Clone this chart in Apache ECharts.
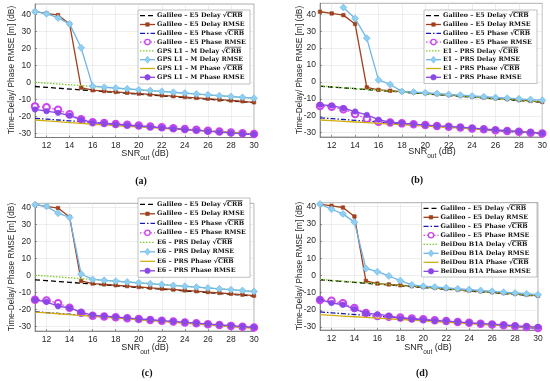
<!DOCTYPE html>
<html><head><meta charset="utf-8">
<script src="https://cdn.jsdelivr.net/npm/echarts@6/dist/echarts.min.js"></script>
<style>html,body{margin:0;padding:0;background:#fff;}#c{width:550px;height:381px;}</style>
</head><body><div id="c"></div>
<script>
const snr = [11,12,13,14,15,16,17,18,19,20,21,22,23,24,25,26,27,28,29,30];
const xTicks = [12,14,16,18,20,22,24,26,28,30];
const yTicks = [-30,-20,-10,0,10,20,30,40];
const panelLetters = ['(a)','(b)','(c)','(d)'];
const signalNames = ['GPS L1 – M','E1 – PRS','E6 – PRS','BeiDou B1A'];
const galName = 'Galileo – E5';

// Galileo E5 (shared across panels)
const galDelayCrb  = [-2.5,-3.0,-3.5,-4.0,-4.5,-5.0,-5.5,-6.0,-6.5,-7.0,-7.5,-8.0,-8.5,-9.0,-9.5,-10.0,-10.5,-11.0,-11.5,-12.0];
const galDelayRmse = [41.5,40.5,39.5,34.3,-3.2,-4.7,-5.2,-5.7,-6.2,-6.7,-7.2,-7.7,-8.2,-8.7,-9.2,-9.7,-10.2,-10.7,-11.2,-11.8];
const galPhaseCrb  = [-21.2,-21.7,-22.2,-22.7,-23.2,-23.7,-24.2,-24.7,-25.2,-25.7,-26.2,-26.7,-27.2,-27.7,-28.2,-28.7,-29.2,-29.7,-30.2,-30.7];
const galPhaseRmse = [-14.2,-14.7,-16.2,-18.9,-21.8,-23.5,-24.0,-24.5,-25.0,-25.5,-26.0,-26.5,-27.0,-27.5,-28.0,-28.5,-29.0,-29.5,-30.0,-30.5];

// (a) GPS L1 - M
const aDelayCrb  = [0.0,-0.5,-1.0,-1.5,-2.0,-2.5,-3.0,-3.5,-4.0,-4.5,-5.0,-5.5,-6.0,-6.5,-7.0,-7.5,-8.0,-8.5,-9.0,-9.5];
const aDelayRmse = [41.5,40.3,37.8,34.3,20.3,-2.3,-2.9,-3.4,-3.9,-4.4,-4.9,-5.4,-5.9,-6.4,-6.9,-7.4,-7.9,-8.4,-8.9,-9.4];
const aPhaseCrb  = [-22.2,-22.7,-23.2,-23.7,-24.2,-24.7,-25.1,-25.5,-25.9,-26.3,-26.7,-27.1,-27.5,-27.9,-28.3,-28.7,-29.1,-29.5,-29.9,-30.4];
const aPhaseRmse = [-16.0,-17.0,-18.0,-19.6,-22.0,-23.8,-24.3,-24.8,-25.3,-25.8,-26.3,-26.8,-27.3,-27.8,-28.3,-28.8,-29.3,-29.8,-30.2,-30.6];

// (b) E1 - PRS
const bDelayCrb  = [-2.4,-2.9,-3.4,-3.9,-4.4,-4.9,-5.4,-5.9,-6.4,-6.9,-7.4,-7.9,-8.4,-8.9,-9.4,-9.9,-10.4,-10.9,-11.4,-11.9];
const bDelayRmse = [null,null,44.0,37.5,25.8,1.2,-1.5,-5.6,-6.0,-6.4,-6.9,-7.4,-7.8,-8.3,-8.7,-9.2,-9.6,-10.0,-10.4,-10.8];
const bPhaseCrb  = [-22.5,-22.9,-23.3,-23.7,-24.1,-24.5,-24.9,-25.3,-25.7,-26.1,-26.5,-26.9,-27.3,-27.7,-28.1,-28.5,-28.9,-29.3,-29.7,-30.1];
const bPhaseRmse = [-13.5,-14.0,-15.5,-17.5,-19.5,-22.3,-23.8,-24.3,-25.0,-25.5,-26.0,-26.3,-26.8,-27.3,-27.8,-28.3,-28.8,-29.3,-29.8,-30.3];

// (c) E6 - PRS
const cDelayCrb  = [0.2,-0.3,-0.8,-1.3,-1.8,-2.3,-2.8,-3.3,-3.8,-4.3,-4.8,-5.3,-5.8,-6.3,-6.8,-7.3,-7.8,-8.3,-8.8,-9.3];
const cDelayRmse = [41.5,40.5,36.5,34.0,0.9,-2.3,-2.8,-3.3,-3.8,-4.3,-4.8,-5.3,-5.8,-6.3,-6.8,-7.3,-7.8,-8.3,-8.8,-9.4];
const cPhaseCrb  = [-21.4,-21.9,-22.4,-22.9,-23.4,-23.9,-24.4,-24.9,-25.4,-25.9,-26.4,-26.9,-27.4,-27.9,-28.4,-28.9,-29.4,-29.9,-30.4,-30.9];
const cPhaseRmse = [-14.2,-15.4,-18.0,-19.0,-21.5,-23.3,-23.8,-24.3,-24.9,-25.4,-25.9,-26.4,-26.9,-27.4,-27.9,-28.4,-28.9,-29.4,-29.9,-30.3];

// (d) BeiDou B1A
const dDelayCrb  = [-2.3,-2.8,-3.3,-3.8,-4.3,-4.8,-5.3,-5.8,-6.3,-6.8,-7.3,-7.8,-8.3,-8.8,-9.3,-9.8,-10.3,-10.8,-11.3,-11.8];
const dDelayRmse = [41.5,38.5,35.8,31.0,4.1,2.2,-0.3,-3.0,-5.5,-6.2,-6.7,-7.2,-7.7,-8.2,-8.7,-9.2,-9.7,-10.2,-10.7,-11.2];
const dPhaseCrb  = [-22.8,-23.2,-23.6,-24.0,-24.4,-24.8,-25.2,-25.6,-26.0,-26.4,-26.8,-27.2,-27.6,-28.0,-28.4,-28.8,-29.2,-29.6,-30.0,-30.4];
const dPhaseRmse = [-14.0,-16.0,-17.0,-19.5,-22.0,-22.5,-23.5,-24.8,-25.3,-25.8,-26.3,-26.5,-27.0,-27.5,-28.0,-28.3,-28.8,-29.2,-29.7,-30.0];

const panelData = [
  [aDelayCrb,aDelayRmse,aPhaseCrb,aPhaseRmse],
  [bDelayCrb,bDelayRmse,bPhaseCrb,bPhaseRmse],
  [cDelayCrb,cDelayRmse,cPhaseCrb,cPhaseRmse],
  [dDelayCrb,dDelayRmse,dPhaseCrb,dPhaseRmse]
];

// layout
const grids = [
  {left:35, top:4, width:219, height:133.5, ymin:-32.5, ymax:46},
  {left:320, top:3.3, width:228, height:133.6, ymin:-32.5, ymax:46.5},
  {left:35, top:203.3, width:219, height:127.7, ymin:-32.5, ymax:42.3},
  {left:320, top:202.7, width:218, height:127.3, ymin:-31.7, ymax:42.3}
];
const legendBoxes = [
  {x:138, y:10, w:112, h:74, first:15.7, pitch:8.8},
  {x:424, y:10, w:113, h:73.5, first:15.7, pitch:8.8},
  {x:138, y:198, w:112, h:79.3, first:204.3, pitch:9.5},
  {x:421.5, y:202.7, w:115.5, h:74.3, first:208.3, pitch:9.0}
];
const ylabPos = [[12,70],[300,70],[12,267],[300,266]];
const xlabPos = [[145,155],[432,153],[145,349],[428,349]];
const capPos = [[141,181],[417,180],[147,373],[422,373]];

const SQ = ' √CRB';
const styles = [
  {suffix:' Delay'+SQ, color:'#000000', dash:[5,3], symbol:'none'},
  {suffix:' Delay RMSE', color:'#A0401C', dash:null, symbol:'rect', size:3.5},
  {suffix:' Phase'+SQ, color:'#1818B8', dash:[5,2,1.5,2], symbol:'none'},
  {suffix:' Phase RMSE', color:'#CC44EE', dash:[1.5,2], symbol:'emptyCircle', size:6.5},
  {suffix:' Delay'+SQ, color:'#7BCB2B', dash:[1.5,1.5], symbol:'none'},
  {suffix:' Delay RMSE', color:'#6FB6E6', dash:null, symbol:'diamond', size:7},
  {suffix:' Phase'+SQ, color:'#D0AE10', dash:null, symbol:'none'},
  {suffix:' Phase RMSE', color:'#8A46E6', dash:null, symbol:'circle', size:5.5}
];

const option = {animation:false, backgroundColor:'#fff', grid:[], xAxis:[], yAxis:[], series:[], graphic:[]};
const axisFont = {fontFamily:'Liberation Sans', fontSize:8.5, color:'#262626'};
const mctx = document.createElement('canvas').getContext('2d');
mctx.font = 'bold 10px "DejaVu Serif"';
const refW = mctx.measureText('Galileo – E5 Phase RMSE').width;
const LSIZE = Math.min(8, 10 * 89 / refW);
const LFONT = 'bold ' + LSIZE.toFixed(2) + 'px "DejaVu Serif"';
mctx.font = LFONT;

function markerGraphic(sym, cx, cy, s, color) {
  if (sym === 'rect') return {type:'rect', shape:{x:cx-s/2, y:cy-s/2, width:s, height:s}, style:{fill:color, stroke:color, lineWidth:0.6}, z:101};
  if (sym === 'circle') return {type:'circle', shape:{cx:cx, cy:cy, r:s/2}, style:{fill:color, stroke:color, lineWidth:0.6}, z:101};
  if (sym === 'emptyCircle') return {type:'circle', shape:{cx:cx, cy:cy, r:s/2-0.6}, style:{fill:'#fff', stroke:color, lineWidth:1.3}, z:101};
  if (sym === 'diamond') return {type:'polygon', shape:{points:[[cx,cy-s/2],[cx+s/2.6,cy],[cx,cy+s/2],[cx-s/2.6,cy]]}, style:{fill:'#8FD0F2', stroke:color, lineWidth:0.6}, z:101};
  return null;
}

grids.forEach((g,i)=>{
  option.grid.push({left:g.left, top:g.top, width:g.width, height:g.height, show:true, borderColor:'#777', borderWidth:0.6, backgroundColor:'#fff'});
  option.xAxis.push({type:'value', gridIndex:i, min:11, max:30,
    axisLine:{show:true, onZero:false, lineStyle:{color:'#555', width:0.6}},
    axisTick:{show:true, inside:true, length:2, customValues:xTicks, lineStyle:{color:'#555', width:0.6}},
    axisLabel:Object.assign({margin:4, customValues:xTicks}, axisFont),
    splitLine:{show:true, lineStyle:{color:'#e3e3e3', width:0.6}}});
  option.yAxis.push({type:'value', gridIndex:i, min:g.ymin, max:g.ymax,
    axisLine:{show:true, onZero:false, lineStyle:{color:'#555', width:0.6}},
    axisTick:{show:true, inside:true, length:2, customValues:yTicks, lineStyle:{color:'#555', width:0.6}},
    axisLabel:Object.assign({margin:4, customValues:yTicks}, axisFont),
    splitLine:{show:true, lineStyle:{color:'#e3e3e3', width:0.6}}});
  const arrs = [galDelayCrb, galDelayRmse, galPhaseCrb, galPhaseRmse].concat(panelData[i]);
  const lb = legendBoxes[i];
  option.graphic.push({type:'rect', shape:{x:lb.x, y:lb.y, width:lb.w, height:lb.h}, style:{fill:'#fff', stroke:'#999', lineWidth:0.6}, z:100});
  styles.forEach((s,k)=>{
    const prefix = k<4 ? galName : signalNames[i];
    const name = prefix + s.suffix;
    const ser = {type:'line', name:name, xAxisIndex:i, yAxisIndex:i,
      data: snr.map((x,j)=>[x, arrs[k][j]]),
      symbol:s.symbol, symbolSize:s.size||0, showSymbol:s.symbol!=='none',
      lineStyle:{color:s.color, width:1.3, type: s.dash || 'solid'},
      itemStyle:{color: s.symbol==='diamond' ? '#8FD0F2' : s.color, borderColor:s.color, borderWidth: s.symbol==='emptyCircle'?1.3:0.6},
      emphasis:{disabled:true}, silent:true, z:2+k, connectNulls:false, clip:true};
    option.series.push(ser);
    // legend entry
    const cy = lb.first + k*lb.pitch;
    const x0 = lb.x + 2, x1 = lb.x + 17;
    option.graphic.push({type:'line', shape:{x1:x0, y1:cy, x2:x1, y2:cy}, style:{stroke:s.color, lineWidth:1.3, lineDash:s.dash||null}, z:101});
    const m = markerGraphic(s.symbol, (x0+x1)/2, cy, s.size||0, s.color);
    if (m) option.graphic.push(m);
    const tx = lb.x + 19;
    option.graphic.push({type:'text', x:tx, y:cy, style:{text:name, font:LFONT, fill:'#111', align:'left', verticalAlign:'middle'}, z:101});
    const idx = name.indexOf('√');
    if (idx >= 0) {
      const xs = tx + mctx.measureText(name.slice(0, idx+1)).width - 0.5;
      const xe = tx + mctx.measureText(name).width;
      option.graphic.push({type:'line', shape:{x1:xs, y1:cy-3.7, x2:xe, y2:cy-3.7}, style:{stroke:'#111', lineWidth:0.6}, z:101});
    }
  });
  option.graphic.push({type:'text', x:ylabPos[i][0], y:ylabPos[i][1], rotation:Math.PI/2,
    style:{text:'Time-Delay/ Phase RMSE [m] (dB)', fontFamily:'Liberation Sans', fontSize:8.3, fill:'#262626', align:'center', verticalAlign:'middle'}});
  option.graphic.push({type:'text', x:xlabPos[i][0], y:xlabPos[i][1],
    style:{text:'{a|SNR}{s|out}{a| (dB)}', align:'center', verticalAlign:'middle', fill:'#262626',
      rich:{a:{fontFamily:'Liberation Sans', fontSize:9, fill:'#262626', lineHeight:12, verticalAlign:'top', padding:[0,0,3,0]},
            s:{fontFamily:'Liberation Sans', fontSize:6.5, fill:'#262626', lineHeight:12, padding:[6,0,0,0]}}}});
  option.graphic.push({type:'text', x:capPos[i][0], y:capPos[i][1],
    style:{text:panelLetters[i], fontFamily:'Liberation Serif', fontWeight:'bold', fontSize:10, fill:'#111', align:'center', verticalAlign:'middle'}});
});

const chart = echarts.init(document.getElementById('c'), null, {renderer:'canvas'});
chart.setOption(option);
</script></body></html>
